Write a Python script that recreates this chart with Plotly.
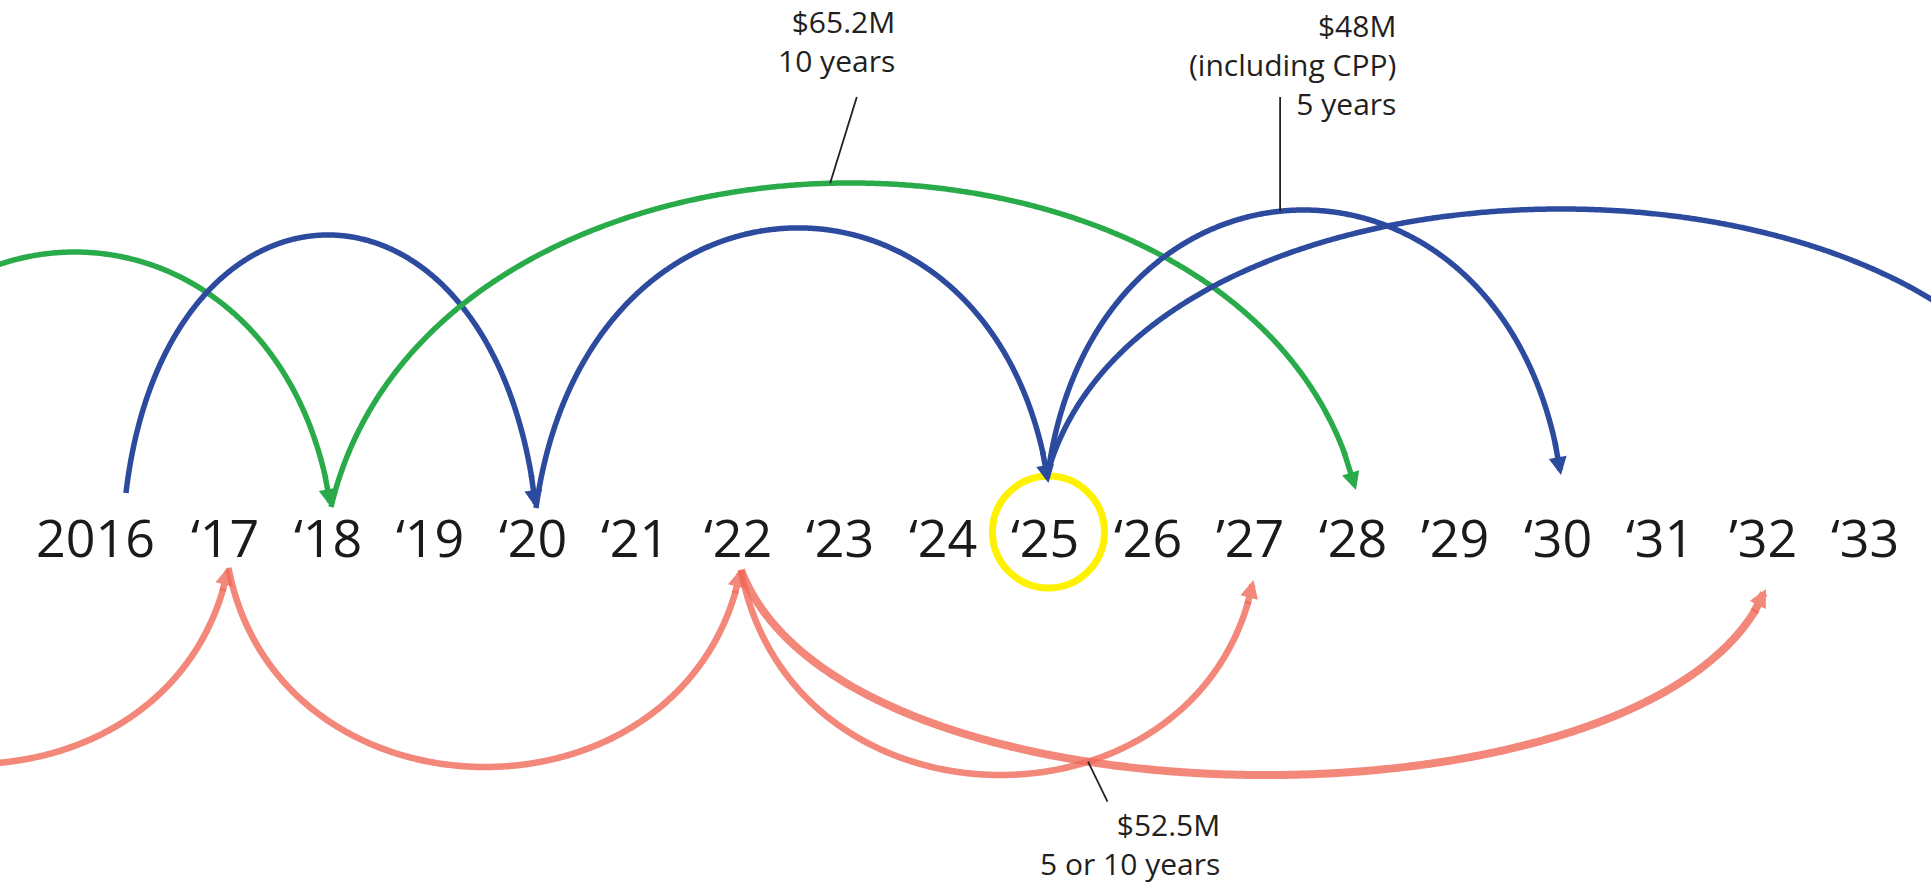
import numpy as np
import plotly.graph_objects as go

# ---------------- data ----------------
years = list(range(2016, 2034))
year_labels = ["2016", "\u201817", "\u201818", "\u201819", "\u201820", "\u201821", "\u201822",
               "\u201823", "\u201824", "\u201825", "\u201826", "\u201927", "\u201828",
               "\u201929", "\u201830", "\u201831", "\u201932", "\u201833"]
highlight_year = 2025

# contracts drawn above the timeline (start year -> end year)
upper_start = [2013, 2016, 2018, 2020, 2025, 2025]
upper_end = [2018, 2020, 2028, 2025, 2030, 2035]
upper_team = ["green", "blue", "green", "blue", "blue", "blue"]

# contracts drawn below the timeline
lower_start = [2012, 2017, 2022, 2022]
lower_end = [2017, 2022, 2027, 2032]
lower_team = ["red", "red", "red", "red"]

note_65 = ["$65.2M", "10 years"]
note_48 = ["$48M", "(including CPP)", "5 years"]
note_52 = ["$52.5M", "5 or 10 years"]

# ---------------- styling ----------------
X_RANGE = [2014.771, 2033.610]
Y_RANGE = [-350, 536]          # vertical units: px above the label line
COLORS = {"green": "#2aab4a", "blue": "#2c4a9e", "red": "#f06a5a"}
OPAC = {"green": 1.0, "blue": 1.0, "red": 0.8}
# (offset at start, offset at end, crest) for each arc
upper_geom = [(29, 29, 284), (43, 28, 301), (29, 46, 353), (28, 53, 308), (66, 61, 326), (66, 66, 327)]
lower_geom = [(-31, -31, -228), (-32, -33, -231), (-34, -44, -239), (-34, -53, -239)]
upper_width = [5.5, 5.5, 5.5, 5.5, 5.5, 5.5]
lower_width = [6.5, 6.5, 6.5, 8]
HEAD_PX = 18
TEXT_COLOR = "#231f20"
FONT = "Open Sans"


def bezier(x0, x1, y0, y1, crest, t, s=0.1):
    w = x1 - x0
    yc = (crest - (y0 + y1) / 8.0) / 0.75
    px = (x0, x0 + s * w, x1 - s * w, x1)
    py = (y0, yc, yc, y1)
    b = ((1 - t) ** 3, 3 * (1 - t) ** 2 * t, 3 * (1 - t) * t ** 2, t ** 3)
    return sum(bi * p for bi, p in zip(b, px)), sum(bi * p for bi, p in zip(b, py))


fig = go.Figure()
annotations = []
shapes = []
curves = {}


def draw(key, x0, x1, geom, team, width):
    y0, y1, crest = geom
    color = COLORS[team]
    op = OPAC[team]
    t = np.linspace(0, 1, 601)
    has_head = X_RANGE[0] < x1 < X_RANGE[1]
    tt = t[t <= 0.972] if has_head else t
    x, y = bezier(x0, x1, y0, y1, crest, tt)
    fig.add_trace(go.Scatter(x=x, y=y, mode="lines",
                             line=dict(color=color, width=width, simplify=False),
                             opacity=op, hoverinfo="skip", showlegend=False))
    if has_head:
        xt, yt = bezier(x0, x1, y0, y1, crest, np.array([0.968, 1.0]))
        annotations.append(dict(x=xt[1], y=yt[1], ax=xt[0], ay=yt[0], xref="x", yref="y",
                                axref="x", ayref="y", text="", showarrow=True, arrowhead=2,
                                arrowsize=HEAD_PX / 5.0 / width, arrowwidth=width,
                                arrowcolor=color, opacity=op, standoff=0,
                                font=dict(size=1), borderpad=0))
    curves[key] = bezier(x0, x1, y0, y1, crest, t)


for i, (a, b) in enumerate(zip(upper_start, upper_end)):
    draw(("U", i), a, b, upper_geom[i], upper_team[i], upper_width[i])
for i, (a, b) in enumerate(zip(lower_start, lower_end)):
    draw(("L", i), a, b, lower_geom[i], lower_team[i], lower_width[i])

# highlight circle around the current year
fig.add_trace(go.Scatter(x=[highlight_year], y=[4], mode="markers", hoverinfo="skip", showlegend=False,
                         marker=dict(symbol="circle-open", size=112, color="#fff200",
                                     line=dict(width=7, color="#fff200"))))

# year labels
for yr, lab in zip(years, year_labels):
    annotations.append(dict(x=yr, y=0, xref="x", yref="y", text=lab, showarrow=False,
                            xanchor="center", yanchor="middle",
                            xshift=-30 if yr == 2016 else -3,
                            font=dict(family=FONT, size=52, color="#1a1a1a")))


def curve_y(key, xq):
    cx, cy = curves[key]
    return float(np.interp(xq, cx, cy))


def leader(xa, ya, xb, yb):
    shapes.append(dict(type="line", xref="x", yref="y", x0=xa, y0=ya, x1=xb, y1=yb,
                       line=dict(color=TEXT_COLOR, width=1.8)))


def note(lines, xr, yc):
    annotations.append(dict(x=xr, y=yc, xref="x", yref="y", text="<br>".join(lines),
                            showarrow=False, xanchor="right", yanchor="middle", align="right",
                            font=dict(family=FONT, size=30, color=TEXT_COLOR)))


# $65.2M -> green 10-year arc
note(note_65, 2023.52, 495)
leader(2023.13, 439, 2022.87, curve_y(("U", 2), 2022.87))

# $48M -> blue 2025-2030 arc
note(note_48, 2028.41, 472)
leader(2027.26, 439, 2027.26, curve_y(("U", 4), 2027.26))

# $52.5M -> crossing of the two red arcs from 2022
ax_, ay_ = curves[("L", 2)]
bx_, by_ = curves[("L", 3)]
grid = np.linspace(2023, 2027, 4001)
d = np.interp(grid, ax_, ay_) - np.interp(grid, bx_, by_)
k = np.where(np.sign(d[:-1]) != np.sign(d[1:]))[0][0]
cross_x = grid[k]
cross_y = float(np.interp(cross_x, bx_, by_))
leader(cross_x, cross_y, cross_x + 0.19, cross_y - 40)
note(note_52, 2026.69, -308)

fig.update_layout(
    width=1931, height=886,
    margin=dict(l=0, r=0, t=0, b=0),
    paper_bgcolor="white", plot_bgcolor="white",
    xaxis=dict(range=X_RANGE, visible=False, fixedrange=True),
    yaxis=dict(range=Y_RANGE, visible=False, fixedrange=True),
    showlegend=False,
    annotations=annotations,
    shapes=shapes,
)

fig.write_html("out.html", config={"displayModeBar": False},
               post_script="document.body.style.margin='0';document.body.style.overflow='hidden';")
